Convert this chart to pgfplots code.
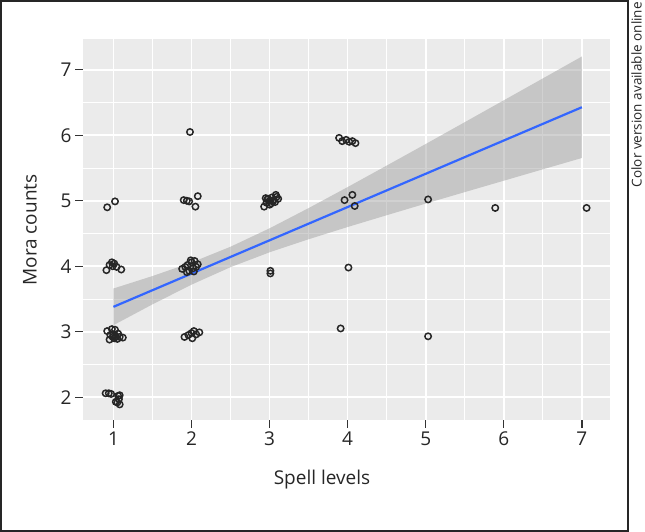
\documentclass[border=0pt]{standalone}
\usepackage{pgfplots}
\pgfplotsset{compat=1.18}
\usepackage{fontspec}
\setmainfont{Open Sans}
\definecolor{panelbg}{HTML}{EBEBEB}
\definecolor{fitblue}{HTML}{3366FF}
\definecolor{bandgray}{HTML}{999999}
\begin{document}
\begin{tikzpicture}[x=1pt,y=1pt]
\begin{axis}[
  at={(83pt,112pt)}, anchor=south west,
  scale only axis, width=527pt, height=381pt,
  xmin=0.61, xmax=7.36, ymin=1.652, ymax=7.47,
  xtick={1,2,3,4,5,6,7}, ytick={2,3,4,5,6,7},
  minor xtick={1.5,2.5,3.5,4.5,5.5,6.5},
  minor ytick={2.5,3.5,4.5,5.5,6.5},
  grid=both,
  major grid style={white, line width=1.6pt},
  minor grid style={white, line width=0.8pt},
  axis background/.style={fill=panelbg},
  axis line style={draw=none},
  tick align=outside, xtick pos=left, ytick pos=left,
  major tick length=8pt, minor tick length=0pt,
  tick style={black!80, line width=1.2pt},
  /pgf/number format/assume math mode=true,
  ticklabel style={font=\fontsize{19}{19}\selectfont, text=black!85},
  clip=false,
]
% jittered points
\addplot[only marks, mark=o, mark size=3.2pt, black!85, mark options={line width=1.5pt}] coordinates {
(0.90,2.06) (0.94,2.06) (0.97,2.05) (1.06,2.02) (1.07,1.97) (1.05,1.92) (1.08,1.89) (1.03,1.93) (1.08,2.03)
(0.92,3.01) (0.96,2.95) (0.99,2.92) (1.01,2.90) (1.03,2.93) (1.05,2.89) (1.08,2.92) (1.12,2.91) (0.98,3.04) (1.02,3.03) (1.06,2.97) (0.95,2.88) (1.00,2.96)
(0.91,3.94) (0.95,4.02) (0.98,4.06) (1.01,4.04) (1.04,3.99) (1.10,3.95) (0.99,4.00)
(0.92,4.90) (1.02,4.99)
(1.91,2.92) (1.96,2.95) (2.00,2.98) (2.03,3.01) (2.06,2.96) (2.10,2.99) (2.01,2.90)
(1.88,3.96) (1.92,3.99) (1.95,4.02) (1.97,3.93) (2.00,4.06) (2.02,3.97) (2.04,4.08) (2.06,3.99) (2.08,4.03) (1.99,4.09) (1.94,3.91) (2.03,3.92)
(1.90,5.01) (1.94,5.00) (1.97,4.99) (2.08,5.07) (2.05,4.91)
(1.98,6.05)
(3.01,3.93) (3.01,3.89)
(2.93,4.91) (2.96,4.97) (2.98,5.03) (3.00,5.00) (3.02,4.96) (3.03,5.05) (3.05,5.01) (3.07,4.98) (3.09,5.06) (3.11,5.03) (2.97,5.02) (3.04,4.99) (3.00,4.94) (3.08,5.09) (2.95,5.04)
(3.91,3.05)
(4.01,3.98)
(3.96,5.01) (4.06,5.09) (4.09,4.92)
(3.89,5.96) (3.93,5.91) (3.98,5.93) (4.02,5.90) (4.06,5.91) (4.10,5.88)
(5.03,2.93)
(5.03,5.02)
(5.89,4.89)
(7.06,4.89)
};
% confidence band
\addplot[fill=bandgray, fill opacity=0.45, draw=none] coordinates {
(1,3.660) (1.5,3.850) (2,4.057) (2.5,4.298) (3,4.579) (3.5,4.888) (4,5.209) (4.5,5.537) (5,5.867) (5.5,6.200) (6,6.534) (6.5,6.868) (7,7.203)
(7,5.653) (6.5,5.480) (6,5.306) (5.5,5.132) (5,4.957) (4.5,4.779) (4,4.599) (3.5,4.412) (3,4.213) (2.5,3.986) (2,3.719) (1.5,3.418) (1,3.100)
} -- cycle;
% fit line
\addplot[fitblue, line width=2.2pt] coordinates {(1,3.38) (7,6.428)};
\end{axis}
\node[font=\fontsize{19}{19}\selectfont, text=black!85] at (322,52) {Spell levels};
\node[font=\fontsize{19}{19}\selectfont, text=black!85, rotate=90] at (30,302) {Mora counts};
\draw[line width=2pt, black!85] (1,1) rectangle (628,531);
\node[font=\fontsize{13.5}{13.5}\selectfont, rotate=90, anchor=east, inner sep=0pt, text=black!85] at (636.5,530) {Color version available online};
\pgfresetboundingbox
\useasboundingbox (0,0) rectangle (645,532);
\end{tikzpicture}
\end{document}
